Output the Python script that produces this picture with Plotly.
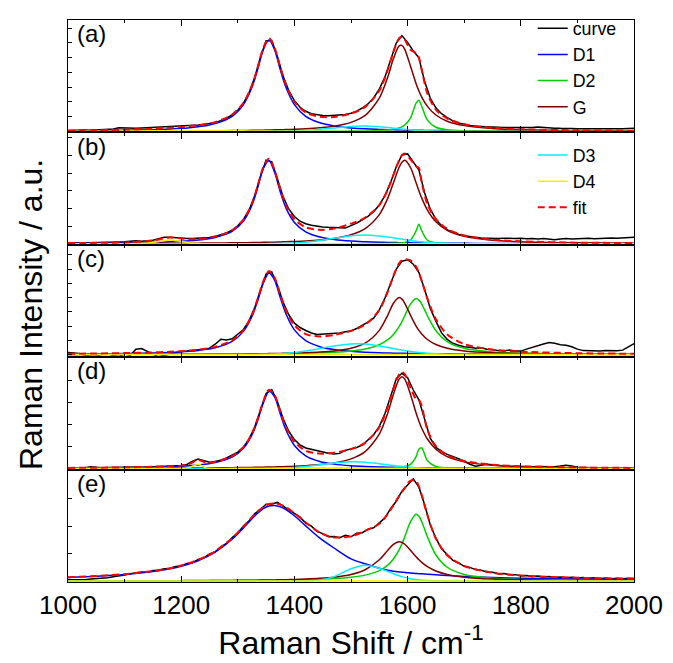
import numpy as np
import plotly.graph_objects as go
from plotly.subplots import make_subplots

# ---------------- data (Raman shift in cm^-1, intensity in a.u.) ----------------
comp_x = [1000, 1050, 1100, 1150, 1180, 1200, 1215, 1230, 1245, 1260, 1290, 1310, 1325, 1335, 1345,
          1355, 1365, 1375, 1385, 1400, 1420, 1445, 1470, 1500, 1525, 1550, 1565, 1575, 1585, 1590,
          1595, 1605, 1615, 1620, 1625, 1635, 1650, 1670, 1700, 1750, 1800, 1900, 2000]
curve_x = list(range(1000, 2001, 10))

panel_labels = ["(a)", "(b)", "(c)", "(d)", "(e)"]

# ---- panel (a)
curve_a = [0.9, 1.2, 1.0, 1.4, 1.2, 1.6, 1.5, 2.0, 2.4, 3.8,
           3.4, 3.0, 3.3, 3.6, 3.9, 4.0, 4.2, 4.4, 4.6, 4.8,
           5.2, 5.6, 6.0, 6.5, 7.1, 8.0, 9.2, 10.9, 13.4, 16.8,
           21.5, 28.7, 39.6, 55.2, 75.4, 92.3, 92.5, 76.0, 56.5, 41.5,
           31.3, 24.6, 20.5, 18.0, 16.8, 16.2, 16.0, 16.2, 16.6, 17.2,
           18.5, 20.6, 23.8, 28.0, 34.0, 43.0, 55.5, 72.5, 90.0, 97.5,
           90.5, 82.0, 75.0, 51.0, 34.0, 24.0, 18.0, 14.0, 10.8, 8.6,
           7.2, 6.0, 5.3, 4.9, 4.6, 4.5, 4.1, 3.9, 4.0, 3.8,
           3.6, 3.5, 3.9, 4.4, 3.8, 3.4, 3.3, 3.1, 3.4, 3.0,
           2.8, 3.0, 2.7, 2.8, 2.6, 2.5, 2.7, 2.5, 2.6, 2.9, 3.2]
d1_a = [0.6, 0.8, 1.2, 1.8, 2.5, 3.1, 3.8, 4.8, 6.0, 7.9, 15.4, 27.3, 44.9, 63.0, 83.1,
        93.0, 83.1, 63.0, 44.9, 27.3, 15.4, 8.8, 5.6, 3.6, 2.6, 2.0, 1.7, 1.6, 1.5, 1.4,
        1.3, 1.2, 1.1, 1.1, 1.1, 1.0, 0.9, 0.8, 0.7, 0.5, 0.4, 0.3, 0.2]
d2_a = [0, 0, 0, 0, 0, 0, 0, 0, 0, 0, 0.1, 0.1, 0.1, 0.1, 0.1,
        0.1, 0.1, 0.1, 0.1, 0.1, 0.1, 0.2, 0.2, 0.3, 0.5, 0.9, 1.5, 2.2, 3.6, 4.7,
        6.4, 13.5, 28.8, 31.8, 25.6, 11.5, 4.2, 1.7, 0.7, 0.3, 0.1, 0.1, 0.0]
g_a = [0.2, 0.3, 0.3, 0.4, 0.5, 0.5, 0.6, 0.6, 0.7, 0.7, 0.9, 1.0, 1.1, 1.2, 1.3,
       1.4, 1.6, 1.7, 1.9, 2.2, 2.7, 3.7, 5.3, 9.2, 16.3, 33.8, 55.4, 74.1, 87.1, 87.6,
       83.5, 66.6, 48.6, 41.2, 34.9, 25.5, 16.7, 10.4, 5.9, 2.9, 1.7, 0.8, 0.5]
d3_a = [0, 0, 0, 0, 0, 0, 0, 0, 0, 0, 0, 0, 0, 0, 0,
        0.1, 0.1, 0.2, 0.3, 0.5, 1.05, 2.2, 3.6, 5.1, 5.5, 4.7, 3.9, 3.3, 2.7, 2.4,
        2.2, 1.7, 1.2, 1.05, 0.9, 0.6, 0.3, 0.1, 0, 0, 0, 0, 0]
d4_a = [0.0, 0.1, 0.3, 0.6, 0.8, 0.9, 1.0, 1.0, 1.0, 0.9, 0.8, 0.6, 0.5, 0.4, 0.4,
        0.3, 0.2, 0.2, 0.2, 0.1, 0.1, 0, 0, 0, 0, 0, 0, 0, 0, 0,
        0, 0, 0, 0, 0, 0, 0, 0, 0, 0, 0, 0, 0]

# ---- panel (b)
curve_b = [0.6, 0.9, 0.8, 1.1, 1.0, 1.3, 1.2, 1.5, 1.6, 1.8,
           2.0, 2.4, 3.2, 2.6, 3.0, 3.6, 5.2, 6.6, 6.8, 6.1,
           5.6, 5.3, 5.5, 5.6, 5.9, 6.5, 7.6, 9.0, 11.0, 14.0,
           18.3, 24.8, 34.5, 49.2, 68.8, 85.2, 83.5, 66.0, 48.0, 35.5,
           27.8, 23.0, 20.5, 19.0, 18.0, 17.2, 16.8, 16.5, 15.8, 16.0,
           18.5, 21.0, 24.5, 28.0, 32.8, 39.5, 49.0, 62.5, 78.5, 90.5,
           91.5, 83.0, 75.0, 52.0, 35.5, 25.0, 18.5, 14.2, 11.5, 9.6,
           8.2, 7.2, 6.6, 6.0, 5.6, 5.8, 5.3, 5.6, 5.2, 5.5,
           5.7, 5.2, 5.5, 5.0, 5.3, 4.6, 4.2, 4.8, 5.4, 4.9,
           5.3, 5.8, 5.6, 5.2, 5.5, 6.1, 5.8, 5.6, 6.2, 6.5, 6.7]
d1_b = [0.5, 0.7, 1.0, 1.5, 2.0, 2.5, 3.1, 3.9, 4.9, 6.5, 12.8, 23.3, 39.4, 56.9, 76.5,
        84.9, 72.9, 53.0, 36.6, 21.8, 12.2, 6.9, 4.4, 2.8, 2.1, 1.6, 1.4, 1.3, 1.2, 1.1,
        1.1, 1.0, 0.9, 0.9, 0.8, 0.8, 0.7, 0.6, 0.5, 0.4, 0.3, 0.2, 0.2]
d2_b = [0, 0, 0, 0, 0, 0, 0, 0, 0, 0, 0, 0, 0, 0, 0,
        0, 0, 0, 0, 0, 0, 0, 0.04, 0.07, 0.11, 0.2, 0.32, 0.47, 0.77, 1.03,
        1.46, 3.6, 13.2, 20.0, 13.2, 3.6, 1.03, 0.38, 0.15, 0.06, 0.03, 0.01, 0.01]
g_b = [0.3, 0.3, 0.4, 0.5, 0.5, 0.6, 0.6, 0.7, 0.8, 0.8, 1.0, 1.1, 1.3, 1.4, 1.5,
       1.6, 1.7, 1.9, 2.1, 2.4, 2.9, 3.9, 5.5, 9.2, 15.5, 29.7, 46.5, 62.2, 77.9, 83.1,
       85.0, 77.9, 62.2, 54.0, 46.5, 34.4, 22.5, 13.8, 7.7, 3.7, 2.2, 1.0, 0.6]
d3_b = [0, 0, 0, 0, 0, 0, 0, 0, 0, 0, 0, 0.05, 0.1, 0.1, 0.15,
        0.2, 0.3, 0.4, 0.5, 0.8, 1.7, 3.4, 5.6, 8.3, 9.0, 7.9, 6.9, 6.1, 5.2, 4.8,
        4.3, 3.4, 2.6, 2.3, 2.0, 1.5, 0.9, 0.4, 0.1, 0, 0, 0, 0]
d4_b = [0, 0, 0, 1.3, 4.0, 2.4, 0.9, 0.2, 0, 0, 0, 0, 0, 0, 0,
        0, 0, 0, 0, 0, 0, 0, 0, 0, 0, 0, 0, 0, 0, 0,
        0, 0, 0, 0, 0, 0, 0, 0, 0, 0, 0, 0, 0]

# ---- panel (c)
curve_c = [2.0, 1.6, 1.0, -0.5, -1.8, -1.5, 0.2, 1.0, -1.2, -2.0,
           0.5, -0.8, 5.5, 6.2, 3.0, 0.5, -2.3, -1.0, 1.0, 2.2,
           3.2, 3.5, 4.0, 4.6, 5.3, 6.5, 10.5, 15.5, 14.8, 16.0,
           20.5, 25.5, 34.5, 47.8, 65.5, 81.8, 84.0, 70.5, 53.5, 40.5,
           32.0, 27.5, 24.5, 22.0, 20.5, 20.8, 21.3, 22.0, 22.0, 23.3,
           24.0, 26.5, 29.5, 33.0, 37.0, 45.5, 57.5, 72.5, 87.0, 95.0,
           96.5, 92.0, 83.5, 66.5, 47.0, 34.0, 22.0, 15.5, 11.5, 9.5,
           8.0, 7.5, 6.5, 6.8, 5.5, 5.2, 4.0, 3.6, 4.5, 3.5,
           3.5, 5.5, 7.5, 9.0, 10.8, 12.2, 11.5, 10.0, 9.5, 8.0,
           5.5, 4.0, 3.8, 4.2, 3.5, 4.0, 3.6, 3.8, 4.5, 7.5, 11.0]
d1_c = [0.55, 0.74, 1.05, 1.61, 2.2, 2.78, 3.37, 4.17, 5.3, 6.94, 13.4, 23.6, 38.7, 54.5, 72.6,
        82.9, 75.7, 58.1, 41.5, 25.1, 14.1, 7.97, 5.05, 3.23, 2.37, 1.81, 1.57, 1.43, 1.31, 1.26,
        1.2, 1.11, 1.03, 0.99, 0.95, 0.89, 0.8, 0.7, 0.59, 0.45, 0.35, 0.23, 0.17]
d2_c = [0.14, 0.16, 0.19, 0.24, 0.27, 0.3, 0.32, 0.34, 0.37, 0.4, 0.48, 0.55, 0.6, 0.65, 0.7,
        0.75, 0.81, 0.88, 0.95, 1.09, 1.32, 1.72, 2.34, 3.63, 5.7, 10.0, 15.1, 20.5, 28.5, 33.6,
        39.5, 51.3, 57.0, 55.4, 51.3, 39.5, 24.2, 13.1, 6.31, 2.68, 1.46, 0.62, 0.34]
g_c = [0.15, 0.18, 0.22, 0.27, 0.32, 0.35, 0.38, 0.41, 0.45, 0.49, 0.59, 0.68, 0.76, 0.82, 0.89,
       0.97, 1.06, 1.16, 1.28, 1.49, 1.86, 2.55, 3.7, 6.42, 11.6, 24.6, 40.2, 52.2, 58.0, 56.4,
       52.2, 40.2, 29.0, 24.6, 20.9, 15.3, 10.2, 6.42, 3.7, 1.86, 1.11, 0.52, 0.3]
d3_c = [0, 0, 0, 0, 0, 0, 0, 0, 0, 0, 0.01, 0.04, 0.09, 0.16, 0.25,
        0.39, 0.59, 0.88, 1.25, 2.05, 3.57, 6.1, 8.8, 10.85, 10.7, 8.8, 7.2, 6.1, 5.0, 4.5,
        4.0, 3.15, 2.4, 2.05, 1.75, 1.25, 0.72, 0.31, 0.07, 0, 0, 0, 0]
d4_c = [0, 0, 0, 0, 0, 0, 0, 0, 0, 0, 0, 0, 0, 0, 0,
        0, 0, 0, 0, 0, 0, 0, 0, 0, 0, 0, 0, 0, 0, 0,
        0, 0, 0, 0, 0, 0, 0, 0, 0, 0, 0, 0, 0]

# ---- panel (d)
curve_d = [0.5, 0.8, 0.6, 1.0, 2.0, 1.2, 1.0, 1.1, 1.3, 1.2,
           1.5, 1.4, 1.6, 1.5, 1.8, 2.0, 2.1, 2.3, 2.6, 2.8,
           3.2, 4.2, 7.5, 9.8, 8.0, 6.6, 7.2, 8.6, 10.8, 13.5,
           16.8, 22.0, 30.0, 42.5, 59.5, 76.5, 80.5, 68.0, 51.0, 38.0,
           29.5, 24.0, 21.0, 19.5, 18.0, 17.0, 15.6, 14.8, 15.5, 18.6,
           20.0, 21.5, 24.0, 28.8, 34.5, 43.0, 56.0, 73.5, 91.5, 97.0,
           92.5, 80.0, 70.0, 50.5, 31.0, 21.5, 17.5, 14.5, 12.5, 10.0,
           7.5, 4.5, 2.5, 3.8, 4.5, 4.0, 3.2, 2.6, 2.2, 2.4,
           2.1, 2.3, 2.0, 2.2, 1.9, 2.1, 2.0, 2.6, 3.5, 2.6,
           1.4, 1.2, 0.9, 1.0, 0.8, 0.9, 0.7, 0.8, 0.6, 0.7, 0.6]
d1_d = [0.48, 0.65, 0.93, 1.42, 1.93, 2.44, 2.96, 3.66, 4.65, 6.08, 11.7, 20.7, 34.3, 48.9, 66.7,
        78.6, 73.0, 55.9, 39.5, 23.5, 13.0, 7.26, 4.57, 2.92, 2.14, 1.63, 1.41, 1.28, 1.17, 1.13,
        1.08, 0.99, 0.92, 0.89, 0.85, 0.79, 0.71, 0.63, 0.52, 0.4, 0.31, 0.21, 0.15]
d2_d = [0, 0, 0, 0, 0, 0, 0, 0, 0, 0, 0, 0, 0, 0, 0,
        0, 0, 0, 0, 0, 0, 0.06, 0.08, 0.12, 0.18, 0.33, 0.52, 0.75, 1.17, 1.52,
        2.08, 4.4, 12.3, 19.8, 21.0, 7.92, 2.2, 0.78, 0.3, 0.11, 0.06, 0.02, 0.01]
g_d = [0.26, 0.31, 0.37, 0.46, 0.53, 0.59, 0.63, 0.69, 0.75, 0.82, 0.99, 1.13, 1.26, 1.36, 1.47,
       1.6, 1.74, 1.9, 2.09, 2.42, 3.01, 4.08, 5.84, 9.92, 17.3, 35.1, 56.7, 75.8, 91.1, 93.5,
       91.1, 75.8, 56.7, 48.3, 41.1, 30.1, 19.7, 12.2, 6.88, 3.38, 1.99, 0.93, 0.53]
d3_d = [0, 0, 0, 0, 0, 0, 0, 0, 0, 0, 0, 0, 0.03, 0.06, 0.1,
        0.17, 0.27, 0.43, 0.65, 1.13, 2.12, 3.86, 5.7, 6.97, 6.55, 5.0, 3.86, 3.1, 2.43, 2.12,
        1.83, 1.34, 0.95, 0.78, 0.65, 0.43, 0.22, 0.08, 0.01, 0, 0, 0, 0]
d4_d = [0, 0, 0, 0, 0, 0.01, 1.26, 4.55, 0.49, 0, 0, 0, 0, 0, 0,
        0, 0, 0, 0, 0, 0, 0, 0, 0, 0, 0, 0, 0, 0, 0,
        0, 0, 0, 0, 0, 0, 0, 0, 0, 0, 0, 0, 0]

# ---- panel (e)
curve_e = [1.2, 1.0, 1.5, 1.3, 2.0, 2.2, 2.9, 3.3, 4.4, 4.9,
           6.0, 7.3, 7.9, 9.2, 9.0, 10.6, 10.8, 12.6, 12.8, 14.9,
           15.4, 17.8, 18.7, 21.9, 23.6, 27.5, 29.6, 34.8, 38.2, 44.2,
           48.8, 56.0, 61.2, 68.6, 72.8, 78.2, 78.5, 80.0, 76.2, 72.4,
           68.5, 65.0, 59.0, 55.8, 50.5, 48.2, 45.0, 45.2, 44.0, 46.5,
           45.0, 48.6, 49.2, 52.8, 54.2, 59.0, 64.2, 73.6, 81.2, 91.4,
           98.2, 104.0, 95.5, 77.8, 57.2, 43.6, 32.8, 26.8, 21.0, 18.4,
           15.0, 13.9, 11.6, 11.0, 9.2, 9.0, 7.5, 7.6, 6.3, 6.5,
           5.4, 5.7, 4.7, 5.1, 4.2, 4.6, 3.7, 4.2, 3.4, 3.8,
           3.0, 3.5, 2.8, 3.3, 2.6, 3.1, 2.4, 2.9, 2.3, 2.8, 2.5]
d1_e = [3.58, 4.75, 6.56, 9.6, 12.46, 15.1, 17.6, 20.7, 24.5, 29.3, 42.5, 54.1, 63.4, 69.1, 73.7,
        76.4, 76.9, 75.6, 72.7, 66.4, 56.1, 43.7, 33.6, 22.5, 17.5, 13.0, 11.0, 10.0, 9.3, 9.0,
        8.7, 8.2, 7.7, 7.5, 7.3, 6.9, 6.3, 5.6, 4.7, 3.6, 2.9, 2.1, 1.6]
d2_e = [0.14, 0.17, 0.2, 0.25, 0.28, 0.31, 0.33, 0.36, 0.39, 0.42, 0.5, 0.57, 0.63, 0.67, 0.72,
        0.78, 0.84, 0.91, 0.99, 1.13, 1.37, 1.79, 2.45, 3.81, 6.0, 10.6, 16.2, 22.4, 31.7, 37.8,
        45.0, 60.3, 68.0, 65.9, 60.3, 45.0, 26.5, 14.0, 6.65, 2.81, 1.52, 0.65, 0.36]
g_e = [0.17, 0.2, 0.24, 0.3, 0.35, 0.39, 0.42, 0.45, 0.49, 0.54, 0.65, 0.75, 0.84, 0.9, 0.98,
       1.06, 1.16, 1.27, 1.39, 1.62, 2.02, 2.75, 3.94, 6.66, 11.5, 21.6, 31.3, 37.4, 40.0, 39.3,
       37.4, 31.3, 24.6, 21.6, 19.0, 14.6, 10.2, 6.66, 3.94, 2.02, 1.21, 0.57, 0.33]
d3_e = [0, 0, 0, 0, 0, 0, 0, 0, 0, 0, 0, 0, 0, 0, 0,
        0, 0, 0, 0, 0, 0.12, 0.98, 4.4, 12.5, 16.0, 13.0, 9.7, 7.4, 5.4, 4.5,
        3.7, 2.4, 1.45, 1.1, 0.84, 0.45, 0.17, 0.04, 0, 0, 0, 0, 0]
d4_e = [0, 0, 0, 0, 0, 0, 0, 0, 0, 0, 0, 0, 0, 0, 0,
        0, 0, 0, 0, 0, 0, 0, 0, 0, 0, 0, 0, 0, 0, 0,
        0, 0, 0, 0, 0, 0, 0, 0, 0, 0, 0, 0, 0]

panels = [
    (curve_a, d1_a, d2_a, g_a, d3_a, d4_a),
    (curve_b, d1_b, d2_b, g_b, d3_b, d4_b),
    (curve_c, d1_c, d2_c, g_c, d3_c, d4_c),
    (curve_d, d1_d, d2_d, g_d, d3_d, d4_d),
    (curve_e, d1_e, d2_e, g_e, d3_e, d4_e),
]

# ---------------- style ----------------
W, H = 673, 663
ML, MR, MT, MB = 68, 35, 10, 81
FONT = "Liberation Sans, Arial, sans-serif"
colors = {"curve": "#000000", "D1": "#0000ff", "D2": "#00d000", "G": "#800000",
          "D3": "#00f0ff", "D4": "#f0f000", "fit": "#ff0000"}
y_ranges = [[-1, 113.4], [-1, 113.4], [-2.7, 111.7], [-1, 113.4], [-1, 113.4]]
y_dticks = [15, 18, 14.5, 22.5, 28]
legend_of = {"curve": "legend", "D1": "legend", "D2": "legend", "G": "legend",
             "D3": "legend2", "D4": "legend2", "fit": "legend2"}

fig = make_subplots(rows=5, cols=1, shared_xaxes=True, vertical_spacing=0)

for i, (curve, d1, d2, g, d3, d4) in enumerate(panels, start=1):
    first = (i == 1)
    fit = (np.array(d1) + np.array(d2) + np.array(g) + np.array(d3) + np.array(d4)).tolist()
    fig.add_trace(go.Scatter(x=curve_x, y=curve, mode="lines", name="curve",
                             line=dict(color=colors["curve"], width=1.5),
                             showlegend=first, legend=legend_of["curve"]), row=i, col=1)
    for nm, ys in [("D1", d1), ("D2", d2), ("G", g), ("D3", d3), ("D4", d4)]:
        fig.add_trace(go.Scatter(x=comp_x, y=ys, mode="lines", name=nm,
                                 line=dict(color=colors[nm], width=1.5, shape="spline", smoothing=0.8),
                                 showlegend=first, legend=legend_of[nm]), row=i, col=1)
    fig.add_trace(go.Scatter(x=comp_x, y=fit, mode="lines", name="fit",
                             line=dict(color=colors["fit"], width=2, dash="7px,4px",
                                       shape="spline", smoothing=0.8),
                             showlegend=first, legend=legend_of["fit"]), row=i, col=1)

    fig.update_xaxes(range=[1000, 2000], showline=True, linecolor="black", linewidth=1.3,
                     mirror="ticks", ticks="inside", ticklen=6, tickwidth=1.2, tickcolor="black",
                     tick0=1000, dtick=200,
                     minor=dict(dtick=100, ticks="inside", ticklen=3, tickcolor="black", tickwidth=1),
                     showgrid=False, zeroline=False,
                     tickfont=dict(family=FONT, size=26, color="black"), row=i, col=1)
    fig.update_yaxes(range=y_ranges[i - 1], showline=True, linecolor="black", linewidth=1.3,
                     mirror=True, ticks="inside", ticklen=4, tickwidth=1, tickcolor="black",
                     tick0=0, dtick=y_dticks[i - 1], showticklabels=False,
                     showgrid=False, zeroline=False, row=i, col=1)

fig.update_xaxes(title=dict(text="Raman Shift / cm<sup>-1</sup>",
                            font=dict(family=FONT, size=32, color="black"), standoff=8),
                 row=5, col=1)

plot_h = H - MT - MB
plot_w = W - ML - MR
panel_h = plot_h / 5
annotations = []
for k, lab in enumerate(panel_labels):
    ycen = MT + k * panel_h + 14
    annotations.append(dict(text=lab, x=(75 - ML) / plot_w, y=1 - (ycen - MT) / plot_h,
                            xref="paper", yref="paper", xanchor="left", yanchor="middle",
                            showarrow=False, font=dict(family=FONT, size=24, color="black")))
annotations.append(dict(text="Raman Intensity / a.u.", textangle=-90,
                        x=(30 - ML) / plot_w, y=1 - (310 - MT) / plot_h, xref="paper", yref="paper",
                        xanchor="center", yanchor="middle", showarrow=False,
                        font=dict(family=FONT, size=32, color="black")))

fig.update_layout(
    width=W, height=H,
    margin=dict(l=ML, r=MR, t=MT, b=MB),
    paper_bgcolor="white", plot_bgcolor="white",
    font=dict(family=FONT, color="black"),
    annotations=annotations,
    legend=dict(x=(536 - ML) / plot_w, y=1 - (0 - MT) / plot_h, xanchor="left", yanchor="top",
                bgcolor="rgba(0,0,0,0)", font=dict(family=FONT, size=17.8, color="black"),
                tracegroupgap=0, itemwidth=30),
    legend2=dict(x=(536 - ML) / plot_w, y=1 - (129 - MT) / plot_h, xanchor="left", yanchor="top",
                 bgcolor="rgba(0,0,0,0)", font=dict(family=FONT, size=17.8, color="black"),
                 tracegroupgap=0, itemwidth=30),
)

fig.write_html("out.html")
